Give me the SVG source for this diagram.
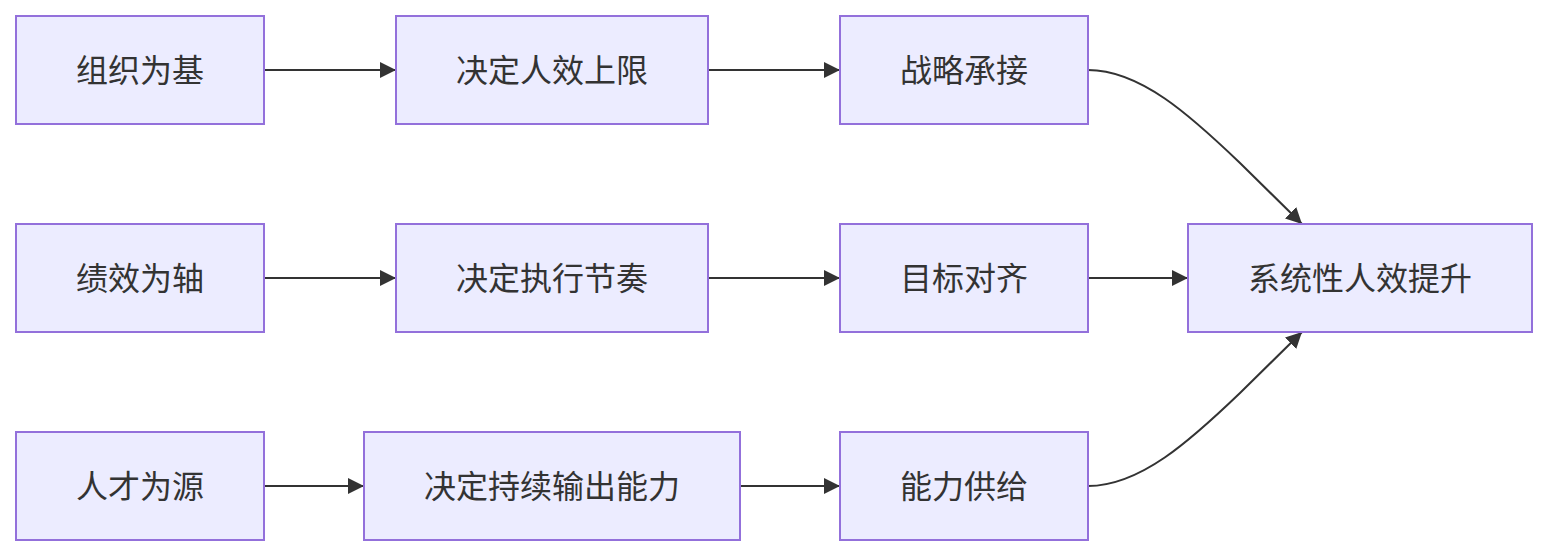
<svg xmlns="http://www.w3.org/2000/svg" width="1548" height="556" viewBox="0 0 1548 556">
<style>
.node rect{fill:#ECECFF;stroke:#9370DB;stroke-width:2}
.node text{font-family:"Noto Sans CJK SC","Noto Sans",sans-serif;font-size:32px;fill:#333;text-anchor:middle;dominant-baseline:central}
.edge{fill:none;stroke:#333;stroke-width:2}
</style>
<defs>
<marker id="arr" viewBox="0 0 10 10" refX="10" refY="5" markerUnits="userSpaceOnUse" markerWidth="16" markerHeight="16" orient="auto">
<path d="M0,0 L10,5 L0,10 z" fill="#333"/>
</marker>
</defs>
<rect width="1548" height="556" fill="#fff"/>
<g id="edges">
<path class="edge" d="M264,70 L396,70" marker-end="url(#arr)"/>
<path class="edge" d="M708,70 L840,70" marker-end="url(#arr)"/>
<path class="edge" d="M264,278 L396,278" marker-end="url(#arr)"/>
<path class="edge" d="M708,278 L840,278" marker-end="url(#arr)"/>
<path class="edge" d="M264,486 L364,486" marker-end="url(#arr)"/>
<path class="edge" d="M740,486 L840,486" marker-end="url(#arr)"/>
<path class="edge" d="M1088,278 L1188,278" marker-end="url(#arr)"/>
<path class="edge" d="M1088,70 C1140,70 1190,115 1240,163 L1302,224" marker-end="url(#arr)"/>
<path class="edge" d="M1088,486 C1140,486 1190,441 1240,393 L1302,332" marker-end="url(#arr)"/>
</g>
<g id="n1" class="node"><rect x="16" y="16" width="248" height="108"/><text x="140" y="68">组织为基</text></g>
<g id="n2" class="node"><rect x="396" y="16" width="312" height="108"/><text x="552" y="68">决定人效上限</text></g>
<g id="n3" class="node"><rect x="840" y="16" width="248" height="108"/><text x="964" y="68">战略承接</text></g>
<g id="n4" class="node"><rect x="16" y="224" width="248" height="108"/><text x="140" y="276">绩效为轴</text></g>
<g id="n5" class="node"><rect x="396" y="224" width="312" height="108"/><text x="552" y="276">决定执行节奏</text></g>
<g id="n6" class="node"><rect x="840" y="224" width="248" height="108"/><text x="964" y="276">目标对齐</text></g>
<g id="n7" class="node"><rect x="16" y="432" width="248" height="108"/><text x="140" y="484">人才为源</text></g>
<g id="n8" class="node"><rect x="364" y="432" width="376" height="108"/><text x="552" y="484">决定持续输出能力</text></g>
<g id="n9" class="node"><rect x="840" y="432" width="248" height="108"/><text x="964" y="484">能力供给</text></g>
<g id="n10" class="node"><rect x="1188" y="224" width="344" height="108"/><text x="1360" y="276">系统性人效提升</text></g>
</svg>
